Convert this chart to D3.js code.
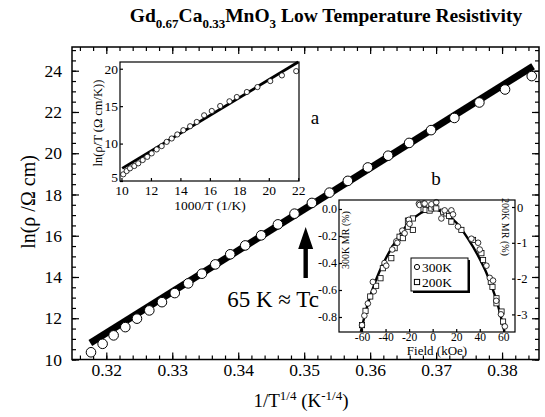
<!DOCTYPE html>
<html>
<head>
<meta charset="utf-8">
<script src="https://cdn.jsdelivr.net/npm/d3@7"></script>
<style>
body { margin: 0; background: white; }
text { font-family: "Liberation Serif", "Times New Roman", serif; fill: black; }
</style>
</head>
<body>
<div id="chart"></div>
<script>
// Main plot: ln(rho) vs 1/T^(1/4)
const invT4 = [0.31768, 0.31944, 0.32111, 0.32288, 0.32465, 0.32652, 0.32844, 0.33038, 0.33242,
    0.33450, 0.33652, 0.33879, 0.34106, 0.34348, 0.34602, 0.34853, 0.35117, 0.35383, 0.35662,
    0.35965, 0.36273, 0.36591, 0.36924, 0.37277, 0.37656, 0.38045, 0.38450];
const lnRho = [10.35, 10.76, 11.17, 11.57, 11.98, 12.38, 12.78, 13.22, 13.69,
    14.16, 14.61, 15.10, 15.53, 16.02, 16.55, 17.07, 17.59, 18.09, 18.66,
    19.31, 19.88, 20.50, 21.12, 21.71, 22.46, 23.09, 23.74];
const fitInvT4 = [0.31758, 0.38470];
const fitLnRho = [10.80, 24.22];
const mainXTicks = [0.32, 0.33, 0.34, 0.35, 0.36, 0.37, 0.38];
const mainYTicks = [10, 12, 14, 16, 18, 20, 22, 24];

// Inset a: ln(rho/T) vs 1000/T
const insetAx = [10.12, 10.35, 10.58, 10.87, 11.14, 11.44, 11.75, 12.05, 12.39, 12.73, 13.07,
    13.41, 13.79, 14.20, 14.66, 15.11, 15.61, 16.13, 16.70, 17.33, 17.83, 18.51, 19.23,
    20.10, 20.89, 21.86];
const insetAy = [5.89, 6.33, 6.69, 7.00, 7.36, 7.80, 8.23, 8.69, 9.22, 9.66, 10.23,
    10.68, 11.22, 11.79, 12.32, 12.89, 13.78, 14.36, 15.02, 15.65, 16.22, 16.89, 17.55,
    18.35, 19.11, 19.68];
const insetAFitX = [10.05, 22.0];
const insetAFitY = [6.69, 20.9];
const insetAXTicks = [10, 12, 14, 16, 18, 20, 22];
const insetAYTicks = [5, 10, 15, 20];

// Inset b: magnetoresistance vs field
const field300 = [-60, -58, -55, -50.8, -50, -40.9, -39.4, -34.3, -30.9, -30, -25.8, -23.8, -20.2,
    -19.6, -11.7, -11.1, -7.7, -6.8, -1.1, 3.1, 7.4, 10.2, 15.9, 17.3, 21.5, 32.9, 38.6, 40,
    45.7, 48.5, 51.3, 54, 58, 61.3];
const mr300 = [-0.86, -0.79, -0.70, -0.54, -0.61, -0.40, -0.42, -0.30, -0.24, -0.25, -0.16, -0.18,
    -0.08, -0.11, 0.04, 0.03, 0.04, 0.04, 0.035, 0.05, -0.07, -0.01, -0.01, -0.04, -0.13, -0.22,
    -0.25, -0.30, -0.42, -0.51, -0.53, -0.68, -0.78, -0.87];
const field200 = [-60, -57, -53, -48, -44.3, -42.3, -35.1, -32.3, -28.1, -25.3, -21, -21, -16.8,
    -16.8, -7.7, -6, -2.6, -1.1, 1.7, 3.1, 8.8, 11.7, 13.9, 15.9, 24.4, 34.3, 41.4, 42.8, 49.4,
    50.8, 54.2, 54.2, 58.5, 59.8];
const mr200 = [-3.3, -2.9, -2.5, -2.2, -1.99, -1.71, -1.43, -1.15, -0.83, -0.87, -0.55, -0.38,
    -0.64, -0.32, -0.06, -0.08, -0.10, -0.04, 0.01, -0.04, -0.13, -0.18, -0.25, -0.41, -0.64,
    -0.92, -1.29, -1.48, -2.09, -2.23, -2.55, -2.69, -2.92, -3.20];
const fitField = [-61, -55, -50, -45, -40, -30, -20, -10, 0, 10, 20, 30, 40, 45, 50, 55, 61];
const fitMr300 = [-0.91, -0.70, -0.57, -0.46, -0.37, -0.22, -0.10, -0.03, 0, -0.03, -0.10,
    -0.22, -0.37, -0.46, -0.57, -0.70, -0.91];
const fieldTicks = [-60, -40, -20, 0, 20, 40, 60];
const mr300Ticks = [0, -0.2, -0.4, -0.6, -0.8];
const mr200Ticks = [0, -1, -2, -3];

const W = 545, H = 417;
const svg = d3.select("#chart").append("svg")
    .attr("width", W)
    .attr("height", H);

// ---------- main plot ----------
const x = d3.scaleLinear().domain([0.3148, 0.3856]).range([72, 539]);
const y = d3.scaleLinear().domain([10, 25.15]).range([359.5, 47]);

const minorX = d3.range(0.316, 0.3856, 0.002);
const minorY = d3.range(10, 25.1, 0.5);

function styleAxis(g, size) {
    g.select(".domain").remove();
    g.selectAll("line").attr("stroke", "black").attr("stroke-width", 1.2);
    g.selectAll("text").attr("font-family", "Liberation Serif, serif").attr("font-size", size).attr("fill", "black");
}

svg.append("g").attr("transform", `translate(0,${y.range()[0]})`)
    .call(d3.axisBottom(x).tickValues(minorX).tickSizeInner(-4).tickSizeOuter(0).tickFormat(""))
    .call(g => styleAxis(g, 17.5));
svg.append("g").attr("transform", `translate(0,${y.range()[0]})`)
    .call(d3.axisBottom(x).tickValues(mainXTicks).tickSizeInner(-7).tickSizeOuter(0)
        .tickPadding(4).tickFormat(d3.format(".2f")))
    .call(g => styleAxis(g, 17.5));
svg.append("g").attr("transform", `translate(0,${y.range()[1]})`)
    .call(d3.axisTop(x).tickValues(minorX).tickSizeInner(-4).tickSizeOuter(0).tickFormat(""))
    .call(g => styleAxis(g, 16));
svg.append("g").attr("transform", `translate(0,${y.range()[1]})`)
    .call(d3.axisTop(x).tickValues(mainXTicks).tickSizeInner(-7).tickSizeOuter(0).tickFormat(""))
    .call(g => styleAxis(g, 16));
svg.append("g").attr("transform", `translate(${x.range()[0]},0)`)
    .call(d3.axisLeft(y).tickValues(minorY).tickSizeInner(-4).tickSizeOuter(0).tickFormat(""))
    .call(g => styleAxis(g, 16));
svg.append("g").attr("transform", `translate(${x.range()[0]},0)`)
    .call(d3.axisLeft(y).tickValues(mainYTicks).tickSizeInner(-7).tickSizeOuter(0).tickPadding(10))
    .call(g => styleAxis(g, 17.5));
svg.append("g").attr("transform", `translate(${x.range()[1]},0)`)
    .call(d3.axisRight(y).tickValues(minorY).tickSizeInner(-4).tickSizeOuter(0).tickFormat(""))
    .call(g => styleAxis(g, 16));
svg.append("g").attr("transform", `translate(${x.range()[1]},0)`)
    .call(d3.axisRight(y).tickValues(mainYTicks).tickSizeInner(-7).tickSizeOuter(0).tickFormat(""))
    .call(g => styleAxis(g, 16));

// thick fit line
svg.append("line")
    .attr("x1", x(fitInvT4[0])).attr("y1", y(fitLnRho[0]))
    .attr("x2", x(fitInvT4[1])).attr("y2", y(fitLnRho[1]))
    .attr("stroke", "black")
    .attr("stroke-width", 7);

// data circles
svg.selectAll(".main-pt")
    .data(invT4.map((v, i) => [v, lnRho[i]]))
    .enter().append("circle")
    .attr("class", "main-pt")
    .attr("cx", d => x(d[0]))
    .attr("cy", d => y(d[1]))
    .attr("r", 4.8)
    .attr("fill", "white")
    .attr("stroke", "black")
    .attr("stroke-width", 1);

// frame
svg.append("rect")
    .attr("x", x.range()[0]).attr("y", y.range()[1])
    .attr("width", x.range()[1] - x.range()[0])
    .attr("height", y.range()[0] - y.range()[1])
    .attr("fill", "none").attr("stroke", "black").attr("stroke-width", 1.5);

// title
const title = svg.append("text")
    .attr("x", 326).attr("y", 22)
    .attr("text-anchor", "middle")
    .attr("font-weight", "bold")
    .attr("font-size", 19.5);
title.append("tspan").text("Gd");
title.append("tspan").attr("font-size", 13).attr("dy", 6).text("0.67");
title.append("tspan").attr("dy", -6).text("Ca");
title.append("tspan").attr("font-size", 13).attr("dy", 6).text("0.33");
title.append("tspan").attr("dy", -6).text("MnO");
title.append("tspan").attr("font-size", 13).attr("dy", 6).text("3");
title.append("tspan").attr("dy", -6).text(" Low Temperature Resistivity");

// axis titles
const xt = svg.append("text")
    .attr("x", 301).attr("y", 407)
    .attr("text-anchor", "middle")
    .attr("font-size", 19);
xt.append("tspan").text("1/T");
xt.append("tspan").attr("font-size", 13).attr("dy", -7).text("1/4");
xt.append("tspan").attr("dy", 7).text(" (K");
xt.append("tspan").attr("font-size", 13).attr("dy", -7).text("-1/4");
xt.append("tspan").attr("dy", 7).text(")");

svg.append("text")
    .attr("transform", "translate(35,202) rotate(-90)")
    .attr("text-anchor", "middle")
    .attr("font-size", 20)
    .text("ln(\u03c1 /\u03a9 cm)");

// labels a, b
svg.append("text").attr("x", 315).attr("y", 124).attr("text-anchor", "middle")
    .attr("font-size", 19).text("a");
svg.append("text").attr("x", 436).attr("y", 185).attr("text-anchor", "middle")
    .attr("font-size", 19).text("b");

// arrow at Tc
const arrowX = 0.35;
const ax0 = x(arrowX) + 1.5;
svg.append("path")
    .attr("d", `M${ax0 - 2.2},278 L${ax0 - 2.2},249 L${ax0 - 7.5},249 L${ax0},227 L${ax0 + 7.5},249 L${ax0 + 2.2},249 L${ax0 + 2.2},278 Z`)
    .attr("fill", "black");
svg.append("text").attr("x", 273).attr("y", 307).attr("text-anchor", "middle")
    .attr("font-size", 23).text("65 K \u2248 Tc");

// ---------- inset a ----------
const xa = d3.scaleLinear().domain([9.9, 22.05]).range([120, 299]);
const ya = d3.scaleLinear().domain([5, 20.9]).range([181, 62]);
const insetA = svg.append("g");
insetA.append("rect")
    .attr("x", xa.range()[0]).attr("y", ya.range()[1])
    .attr("width", xa.range()[1] - xa.range()[0])
    .attr("height", ya.range()[0] - ya.range()[1])
    .attr("fill", "white");
insetA.append("g").attr("transform", `translate(0,${ya.range()[0]})`)
    .call(d3.axisBottom(xa).tickValues(insetAXTicks).tickSizeInner(-3).tickSizeOuter(0).tickPadding(4))
    .call(g => styleAxis(g, 13.5));
insetA.append("g").attr("transform", `translate(${xa.range()[0]},0)`)
    .call(d3.axisLeft(ya).tickValues(insetAYTicks).tickSizeInner(-3).tickSizeOuter(0).tickPadding(2))
    .call(g => styleAxis(g, 13.5))
    .call(g => g.selectAll("text").filter(d => d === 5).attr("dy", "0.05em"));
insetA.append("line")
    .attr("x1", xa(insetAFitX[0])).attr("y1", ya(insetAFitY[0]))
    .attr("x2", xa(insetAFitX[1])).attr("y2", ya(insetAFitY[1]))
    .attr("stroke", "black").attr("stroke-width", 2.8);
insetA.selectAll(".a-pt")
    .data(insetAx.map((v, i) => [v, insetAy[i]]))
    .enter().append("circle")
    .attr("class", "a-pt")
    .attr("cx", d => xa(d[0])).attr("cy", d => ya(d[1]))
    .attr("r", 2.6)
    .attr("fill", "white").attr("stroke", "black").attr("stroke-width", 0.8);
insetA.append("rect")
    .attr("x", xa.range()[0]).attr("y", ya.range()[1])
    .attr("width", xa.range()[1] - xa.range()[0])
    .attr("height", ya.range()[0] - ya.range()[1])
    .attr("fill", "none").attr("stroke", "black").attr("stroke-width", 1.2);
insetA.append("text").attr("x", 210).attr("y", 210).attr("text-anchor", "middle")
    .attr("font-size", 13.5).text("1000/T (1/K)");
insetA.append("text")
    .attr("transform", "translate(102,123) rotate(-90)")
    .attr("text-anchor", "middle")
    .attr("font-size", 12.5)
    .text("ln(\u03c1/T (\u03a9 cm/K))");

// ---------- inset b ----------
const xb = d3.scaleLinear().domain([-60, 60]).range([362, 503.3]);
const yb300 = d3.scaleLinear().domain([0, -0.8]).range([209, 317]);
const yb200 = d3.scaleLinear().domain([0, -3]).range([207, 314.4]);
const bLeft = 339, bRight = 515, bTop = 200, bBottom = 332;
const insetB = svg.append("g");
insetB.append("rect")
    .attr("x", bLeft).attr("y", bTop)
    .attr("width", bRight - bLeft).attr("height", bBottom - bTop)
    .attr("fill", "white");
insetB.append("g").attr("transform", `translate(0,${bBottom})`)
    .call(d3.axisBottom(xb).tickValues(fieldTicks).tickSizeInner(-3).tickSizeOuter(0).tickPadding(1))
    .call(g => styleAxis(g, 11.5));
insetB.append("g").attr("transform", `translate(${bLeft},0)`)
    .call(d3.axisLeft(yb300).tickValues(mr300Ticks).tickSizeInner(-3).tickSizeOuter(0)
        .tickPadding(2).tickFormat(d3.format(".1f")))
    .call(g => styleAxis(g, 12));
insetB.append("g").attr("transform", `translate(${bRight},0)`)
    .call(d3.axisRight(yb200).tickValues(mr200Ticks).tickSizeInner(-3).tickSizeOuter(0)
        .tickPadding(2).tickFormat(d3.format("d")))
    .call(g => styleAxis(g, 12.5));
insetB.selectAll("text").filter(function() { return this.textContent.includes("\u2212"); })
    .text(function() { return this.textContent.replace("\u2212", "-"); });

const mrLine = d3.line()
    .x(d => xb(d[0]))
    .y(d => yb300(d[1]))
    .curve(d3.curveMonotoneX);
insetB.append("path")
    .datum(fitField.map((v, i) => [v, fitMr300[i]]))
    .attr("d", mrLine)
    .attr("fill", "none").attr("stroke", "black").attr("stroke-width", 2.4);

insetB.selectAll(".b-sq")
    .data(field200.map((v, i) => [v, mr200[i]]))
    .enter().append("rect")
    .attr("class", "b-sq")
    .attr("x", d => xb(d[0]) - 2.6).attr("y", d => yb200(d[1]) - 2.6)
    .attr("width", 5.2).attr("height", 5.2)
    .attr("fill", "white").attr("stroke", "black").attr("stroke-width", 0.8);
insetB.selectAll(".b-pt")
    .data(field300.map((v, i) => [v, mr300[i]]))
    .enter().append("circle")
    .attr("class", "b-pt")
    .attr("cx", d => xb(d[0])).attr("cy", d => yb300(d[1]))
    .attr("r", 2.8)
    .attr("fill", "white").attr("stroke", "black").attr("stroke-width", 0.8);

insetB.append("rect")
    .attr("x", bLeft).attr("y", bTop)
    .attr("width", bRight - bLeft).attr("height", bBottom - bTop)
    .attr("fill", "none").attr("stroke", "black").attr("stroke-width", 1.2);

insetB.append("text").attr("x", 437).attr("y", 355).attr("text-anchor", "middle")
    .attr("font-size", 13).text("Field (kOe)");
insetB.append("text")
    .attr("transform", "translate(349,240) rotate(-90)")
    .attr("text-anchor", "middle")
    .attr("font-size", 10)
    .text("300K MR (%)");
insetB.append("text")
    .attr("transform", "translate(502,227) rotate(90)")
    .attr("text-anchor", "middle")
    .attr("font-size", 10)
    .text("200K MR (%)");

// legend with drop shadow
const lg = insetB.append("g").attr("transform", "translate(411,258)");
lg.append("rect").attr("x", 2).attr("y", 2).attr("width", 57).attr("height", 33).attr("fill", "black");
lg.append("rect").attr("width", 57).attr("height", 33).attr("fill", "white")
    .attr("stroke", "black").attr("stroke-width", 1);
lg.append("circle").attr("cx", 6).attr("cy", 9).attr("r", 2.6)
    .attr("fill", "white").attr("stroke", "black").attr("stroke-width", 1);
lg.append("text").attr("x", 11).attr("y", 13.5).attr("font-size", 13.5).text("300K");
lg.append("rect").attr("x", 3.4).attr("y", 21.4).attr("width", 5.2).attr("height", 5.2)
    .attr("fill", "white").attr("stroke", "black").attr("stroke-width", 1);
lg.append("text").attr("x", 11).attr("y", 28.5).attr("font-size", 13.5).text("200K");
</script>
</body>
</html>
